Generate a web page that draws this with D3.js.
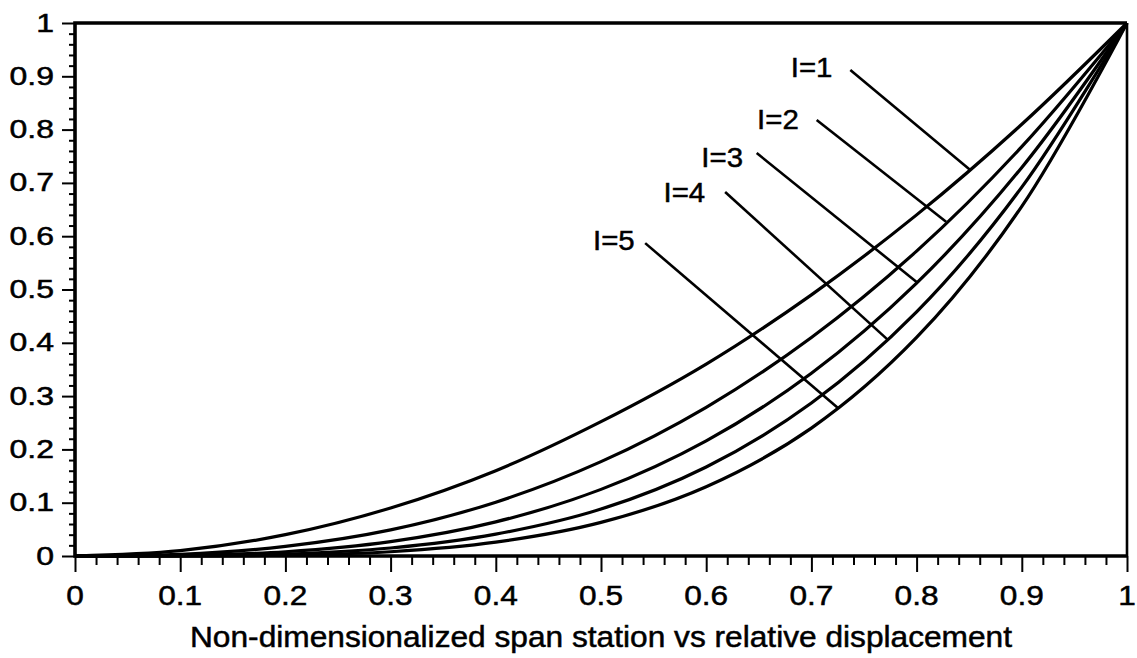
<!DOCTYPE html>
<html>
<head>
<meta charset="utf-8">
<script src="https://cdn.jsdelivr.net/npm/d3@7"></script>
<style>
  body { margin: 0; background: #fff; }
  text { font-family: "Liberation Sans", Arial, Helvetica, sans-serif; fill: #000; stroke: #000; stroke-width: 0.5px; }
</style>
</head>
<body>
<div id="chart"></div>
<script>
// span station (x) and relative displacement for each curve
var stations = [0, 0.1, 0.2, 0.3, 0.4, 0.5, 0.6, 0.7, 0.8, 0.9, 1];
var dispI1 = [0, 0.010, 0.040, 0.090, 0.160, 0.252, 0.360, 0.490, 0.640, 0.810, 1];
var dispI2 = [0, 0.003, 0.018, 0.049, 0.101, 0.177, 0.279, 0.410, 0.572, 0.768, 1];
var dispI3 = [0, 0.001, 0.008, 0.027, 0.064, 0.125, 0.216, 0.343, 0.512, 0.729, 1];
var dispI4 = [0, 0.0003, 0.0036, 0.015, 0.041, 0.088, 0.167, 0.287, 0.458, 0.692, 1];
var dispI5 = [0, 0.0001, 0.0016, 0.008, 0.026, 0.063, 0.130, 0.240, 0.410, 0.656, 1];

var curveNames = ['I=1', 'I=2', 'I=3', 'I=4', 'I=5'];
var curveValues = [dispI1, dispI2, dispI3, dispI4, dispI5];

// leader lines (data coords): label corner -> point on the curve
var leaderFrom = [[0.737, 0.912], [0.705, 0.818], [0.648, 0.756], [0.618, 0.683], [0.542, 0.587]];
var leaderTo   = [[0.851, 0.724], [0.828, 0.627], [0.800, 0.514], [0.773, 0.405], [0.725, 0.278]];
var labelAt    = [[0.720, 0.899], [0.688, 0.801], [0.635, 0.730], [0.599, 0.664], [0.532, 0.574]];

var tickValues = [0, 0.1, 0.2, 0.3, 0.4, 0.5, 0.6, 0.7, 0.8, 0.9, 1];
var tickLabels = ['0', '0.1', '0.2', '0.3', '0.4', '0.5', '0.6', '0.7', '0.8', '0.9', '1'];
var minorTicks = d3.range(0, 1.0001, 0.02).filter(function (v) {
  return Math.abs(v * 10 - Math.round(v * 10)) > 1e-6;
});

var width = 1137, height = 658;
var plotLeft = 75, plotRight = 1127, plotTop = 23, plotBottom = 556;

var svg = d3.select('#chart').append('svg')
    .attr('width', width)
    .attr('height', height);

var x = d3.scaleLinear().domain([0, 1]).range([plotLeft, plotRight]);
var y = d3.scaleLinear().domain([0, 1]).range([plotBottom, plotTop]);

function thinTicks(g) {
  g.select('.domain').remove();
  g.selectAll('line').attr('stroke', '#000').attr('stroke-width', 2);
}

// minor and major ticks
svg.append('g')
    .attr('transform', 'translate(' + plotLeft + ',0)')
    .call(d3.axisLeft(y).tickValues(minorTicks).tickSize(6).tickFormat(''))
    .call(thinTicks);
svg.append('g')
    .attr('transform', 'translate(' + plotLeft + ',0)')
    .call(d3.axisLeft(y).tickValues(tickValues).tickSize(13).tickFormat(''))
    .call(thinTicks);
svg.append('g')
    .attr('transform', 'translate(0,' + plotBottom + ')')
    .call(d3.axisBottom(x).tickValues(minorTicks).tickSize(9).tickFormat(''))
    .call(thinTicks);
svg.append('g')
    .attr('transform', 'translate(0,' + plotBottom + ')')
    .call(d3.axisBottom(x).tickValues(tickValues).tickSize(16).tickFormat(''))
    .call(thinTicks);

// tick labels (the original type is horizontally wide)
svg.append('g').selectAll('text')
    .data(tickValues)
    .enter().append('text')
    .attr('transform', function (d) { return 'translate(54,' + (y(d) + 8.5) + ') scale(1.28,1)'; })
    .attr('text-anchor', 'end')
    .attr('font-size', 25)
    .text(function (d, i) { return tickLabels[i]; });
svg.append('g').selectAll('text')
    .data(tickValues)
    .enter().append('text')
    .attr('transform', function (d) { return 'translate(' + x(d) + ',605) scale(1.13,1)'; })
    .attr('text-anchor', 'middle')
    .attr('font-size', 28)
    .text(function (d, i) { return tickLabels[i]; });

svg.append('text')
    .attr('x', 190)
    .attr('y', 647)
    .attr('font-size', 29)
    .attr('textLength', 822)
    .attr('lengthAdjust', 'spacingAndGlyphs')
    .text('Non-dimensionalized span station vs relative displacement');

// curves
var line = d3.line()
    .x(function (d) { return x(d[0]); })
    .y(function (d) { return y(d[1]); })
    .curve(d3.curveCatmullRom);

svg.append('g').selectAll('path')
    .data(curveValues)
    .enter().append('path')
    .attr('d', function (vals) { return line(stations.map(function (s, i) { return [s, vals[i]]; })); })
    .attr('fill', 'none')
    .attr('stroke', '#000')
    .attr('stroke-width', 3.2);

// leader lines and labels
svg.append('g').selectAll('line')
    .data(curveNames)
    .enter().append('line')
    .attr('x1', function (d, i) { return x(leaderFrom[i][0]); })
    .attr('y1', function (d, i) { return y(leaderFrom[i][1]); })
    .attr('x2', function (d, i) { return x(leaderTo[i][0]); })
    .attr('y2', function (d, i) { return y(leaderTo[i][1]); })
    .attr('stroke', '#000')
    .attr('stroke-width', 2.6);

svg.append('g').selectAll('text')
    .data(curveNames)
    .enter().append('text')
    .attr('transform', function (d, i) {
      return 'translate(' + x(labelAt[i][0]) + ',' + y(labelAt[i][1]) + ') scale(1.05,1)';
    })
    .attr('text-anchor', 'end')
    .attr('font-size', 28)
    .text(function (d) { return d; });

// frame: heavier on left, top and bottom
svg.append('path')
    .attr('d', 'M' + plotRight + ',' + plotBottom + 'H' + plotLeft + 'V' + plotTop + 'H' + plotRight)
    .attr('fill', 'none')
    .attr('stroke', '#000')
    .attr('stroke-width', 3.6);
svg.append('line')
    .attr('x1', plotRight).attr('y1', plotTop)
    .attr('x2', plotRight).attr('y2', plotBottom)
    .attr('stroke', '#000')
    .attr('stroke-width', 2.6);
</script>
</body>
</html>
